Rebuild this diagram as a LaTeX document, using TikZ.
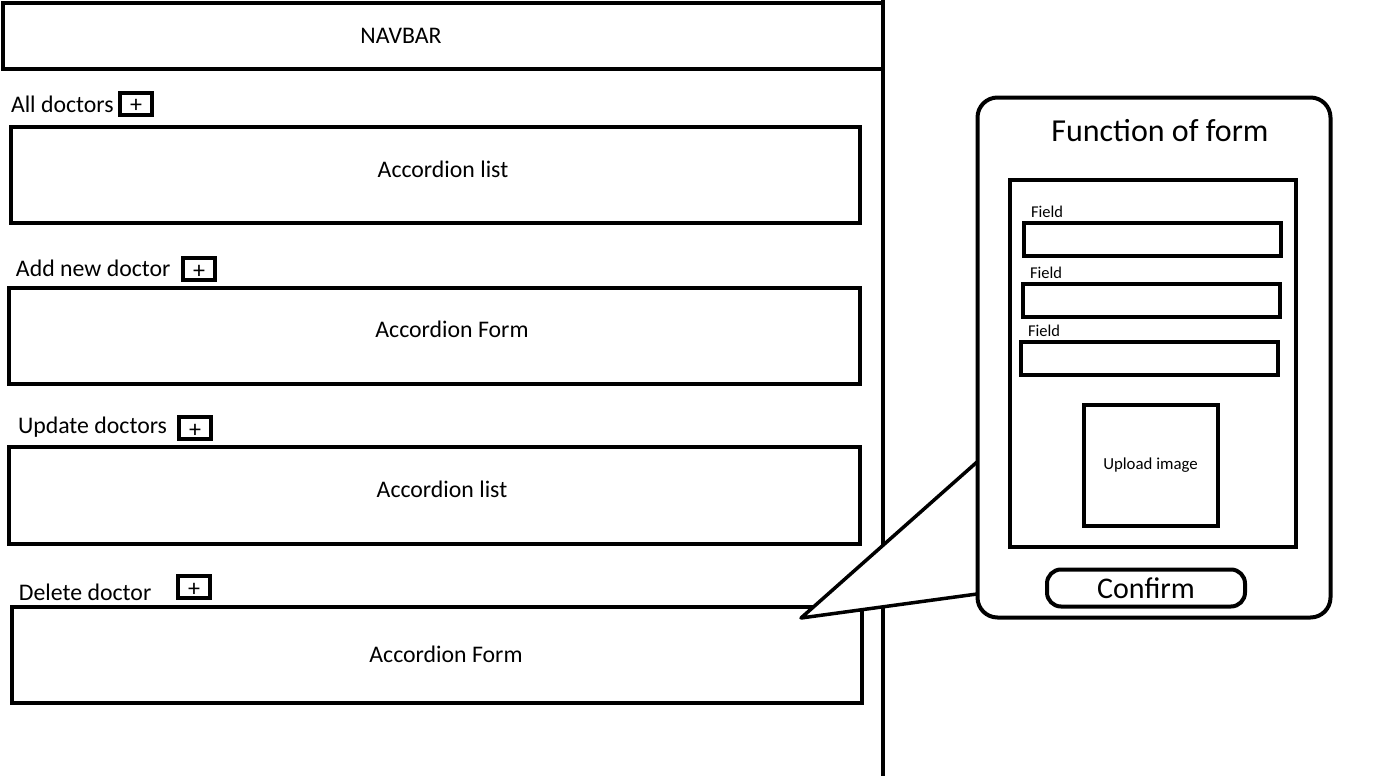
\documentclass[tikz,border=0pt]{standalone}
\usepackage{fontspec}
\setmainfont{Carlito}
\begin{document}
\begin{tikzpicture}[x=1pt, y=-1pt, line width=4pt,
    caixa/.style={draw, rectangle, inner sep=0pt},
    mais/.style={draw, rectangle, line width=4pt, minimum width=32pt, minimum height=22pt, inner sep=0pt, text height=18pt, text depth=0pt, font=\fontsize{24}{24}\selectfont},
    texto/.style={inner sep=0pt, font=\fontsize{23.8}{26}\selectfont},
    campo/.style={anchor=west, inner sep=0pt, font=\fontsize{16.5}{18}\selectfont}]
  \useasboundingbox (0,0) rectangle (1398,776);

  % 1. Barra de navegação e divisória vertical
  \node[caixa, minimum width=880pt, minimum height=66pt] (navbar) at (443,36) {};
  \node[texto] (navtxt) at (401,36) {NAVBAR};
  \coordinate (divtop) at (883,0);
  \coordinate (divbot) at (883,776);
  \draw (divtop) -- (divbot);

  % 2. Secções do acordeão: rótulo, botão +, caixa e texto
  \node[texto, anchor=west] (lab1) at (9,104) {All doctors};
  \node[mais] (mais1) at (136,104) {+};
  \node[caixa, minimum width=849pt, minimum height=96pt] (box1) at (435,175) {};
  \node[texto] (txt1) at (443,169) {Accordion list};

  \node[texto, anchor=west] (lab2) at (14,268) {Add new doctor};
  \node[mais] (mais2) at (199,269) {+};
  \node[caixa, minimum width=851pt, minimum height=96pt] (box2) at (434.5,336) {};
  \node[texto] (txt2) at (452,329) {Accordion Form};

  \node[texto, anchor=west] (lab3) at (16,427) {Update doctors};
  \node[mais] (mais3) at (195,428) {+};
  \node[caixa, minimum width=851pt, minimum height=97pt] (box3) at (434.5,495.5) {};
  \node[texto] (txt3) at (442,489) {Accordion list};

  \node[texto, anchor=west] (lab4) at (17,592) {Delete doctor};
  \node[mais] (mais4) at (194,587) {+};
  \node[caixa, minimum width=850pt, minimum height=96pt] (box4) at (437,655) {};
  \node[texto] (txt4) at (446,654) {Accordion Form};

  % 3. Balão que liga o último formulário ao painel
  \coordinate (ponta) at (801,618);
  \coordinate (balaoA) at (977,462);
  \coordinate (balaoB) at (977,594);
  \draw[fill=white, line width=3.5pt, line join=round] (balaoA) -- (ponta) -- (balaoB);

  % 4. Painel com a função do formulário
  \node[caixa, rounded corners=20pt, minimum width=353pt, minimum height=520pt, fill=white] (painel) at (1154,357.5) {};
  \node[texto, font=\fontsize{32}{34}\selectfont] (titulo) at (1160,131) {Function of form};
  \node[caixa, minimum width=286pt, minimum height=367pt] (form) at (1152.5,363) {};

  \foreach \i/\fx/\fy/\lx/\ly in {1/1152/239/1029/212, 2/1151/300/1028/273, 3/1149/358.5/1026/331} {
    \node[campo] (flab\i) at (\lx,\ly) {Field};
    \node[caixa, minimum width=257pt, minimum height=33pt] (field\i) at (\fx,\fy) {};   % caixa do campo
  }

  \node[caixa, minimum width=134pt, minimum height=121pt, font=\fontsize{16.8}{18}\selectfont] (upload) at (1150.5,465) {Upload image};
  \node[caixa, rounded corners=14pt, minimum width=198pt, minimum height=37pt, font=\fontsize{30}{32}\selectfont] (confirm) at (1146,588) {Confirm};
\end{tikzpicture}
\end{document}
